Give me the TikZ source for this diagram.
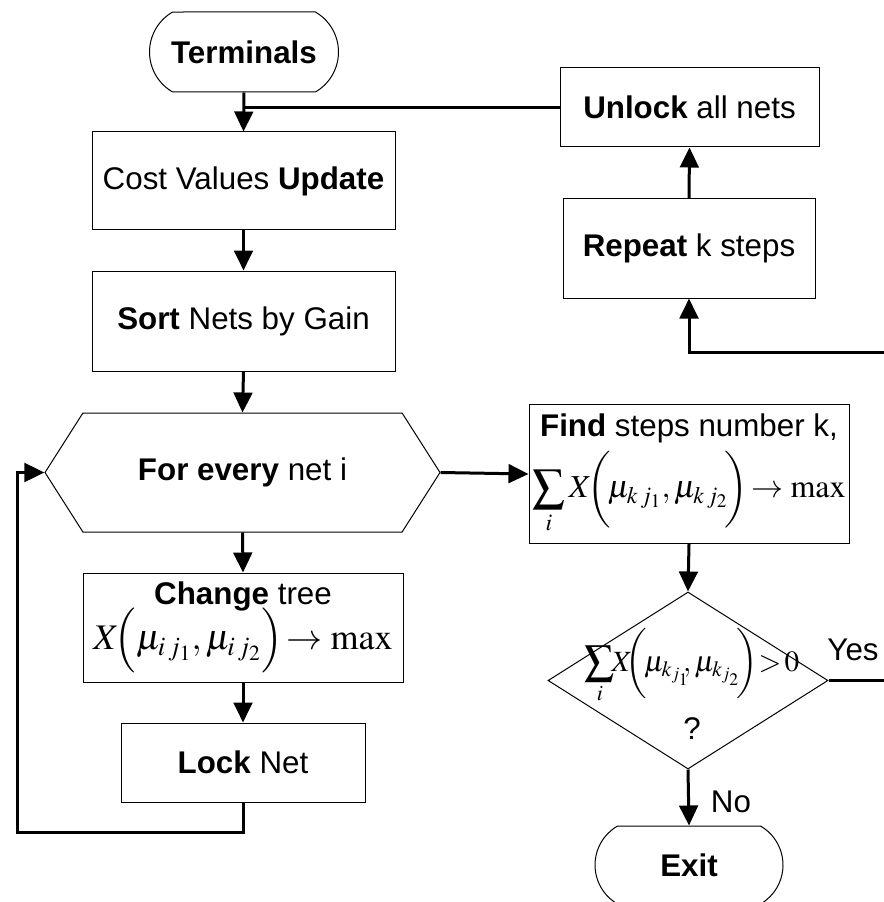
\documentclass[tikz,border=0pt]{standalone}
\usepackage{mathptmx}
\usepackage[no-math]{fontspec}
\setmainfont{Liberation Sans}
\usepackage{tikz}
\usetikzlibrary{shapes}
\usetikzlibrary{arrows.meta}

\begin{document}
\begin{tikzpicture}[x=0.75pt,y=-0.75pt]
% définition des paramètres
\tikzstyle boiteorg=[draw,line width=0.75pt,rectangle,inner sep=0pt,align=center,font=\fontsize{23.5}{27}\selectfont]
\tikzstyle terminorg=[boiteorg,rounded rectangle,rounded rectangle arc length=120]
\tikzstyle flecheorg=[line width=2.25pt,-{Triangle[length=15pt,width=14pt]}]
\tikzstyle traitorg=[line width=2.25pt]
\tikzstyle texteorg=[inner sep=0pt,font=\fontsize{23.5}{27}\selectfont]
\newcommand{\grandmath}[2]{{\fontsize{#1}{30}\selectfont$\displaystyle #2$}}
% le cadre
\useasboundingbox (0,0) rectangle (884,902);
\clip (0,0) rectangle (884,902);
% la colonne de gauche
\node (term) [terminorg,minimum width=141.75pt,minimum height=60pt] at (244,52) {\textbf{Terminals}};
\node (maj) [boiteorg,minimum width=227.25pt,minimum height=73.5pt] at (243.5,181) {Cost Values \textbf{Update}};
\node (tri) [boiteorg,minimum width=227.25pt,minimum height=75pt] at (243.5,321) {\textbf{Sort} Nets by Gain};
\node (pourtout) [boiteorg,signal,signal to=west and east,signal pointer angle=115,minimum width=296.25pt,minimum height=89.25pt] at (242.5,472.5) {\textbf{For every} net i};
\node (change) [boiteorg,minimum width=240pt,minimum height=81.75pt] at (243,627.5) {\textbf{Change} tree\\[-3pt]\grandmath{27}{X\!\Bigl(\mu_{i\,j_1},\mu_{i\,j_2}\Bigr)\!\to\max}};
\node (verrou) [boiteorg,minimum width=183pt,minimum height=59.25pt] at (243,762.5) {\textbf{Lock} Net};
\coordinate (boucle) at (17,832);
% la colonne de droite
\node (debloq) [boiteorg,minimum width=194.25pt,minimum height=59.25pt] at (689.5,107.5) {\textbf{Unlock} all nets};
\node (repete) [boiteorg,minimum width=189pt,minimum height=74.25pt] at (689,248.5) {\textbf{Repeat} k steps};
\node (cherche) [boiteorg,minimum width=240pt,minimum height=104.25pt] at (689,474) {\textbf{Find} steps number k,\\[5pt]\grandmath{24}{\sum_i X\!\biggl(\!\mu_{k\,j_1},\mu_{k\,j_2}\!\biggr)\!\to\max}};
\node (decision) [boiteorg,diamond,minimum width=210pt,minimum height=132.75pt] at (688,680.5) {};
\node (dectexte) [texteorg,align=center] at (692,684) {\grandmath{22}{\sum_i\!\!X\!\!\biggl(\!\mu_{k_{j_1}}\!\!,\mu_{k_{j_2}}\!\biggr)\!\!>\!0}\\[9pt]?};
\node (sortie) [terminorg,minimum width=141pt,minimum height=58.5pt] at (689,865) {\textbf{Exit}};
\node (oui) [texteorg] at (853,650) {Yes};
\node (non) [texteorg] at (731,802) {No};
\coordinate (bordoui) at (884,680.5);
\coordinate (bordrep) at (884,352);
% les flèches
\draw [flecheorg] (term.south) -- (maj.north);
\draw [traitorg] (debloq.west) -- (term.south |- debloq.west);
\draw [flecheorg] (maj.south) -- (tri.north);
\draw [flecheorg] (tri.south) -- (pourtout.north);
\draw [flecheorg] (pourtout.south) -- (change.north);
\draw [flecheorg] (change.south) -- (verrou.north);
\draw [flecheorg] (verrou.south) |- (boucle) |- (pourtout.west);
\draw [flecheorg] (pourtout.east) -- (cherche.west);
\draw [flecheorg] (cherche.south) -- (decision.north);
\draw [traitorg] (decision.east) -- (bordoui);
\draw [flecheorg] (decision.south) -- (sortie.north);
\draw [flecheorg] (bordrep) -| (repete.south);
\draw [flecheorg] (repete.north) -- (debloq.south);
\end{tikzpicture}
\end{document}
